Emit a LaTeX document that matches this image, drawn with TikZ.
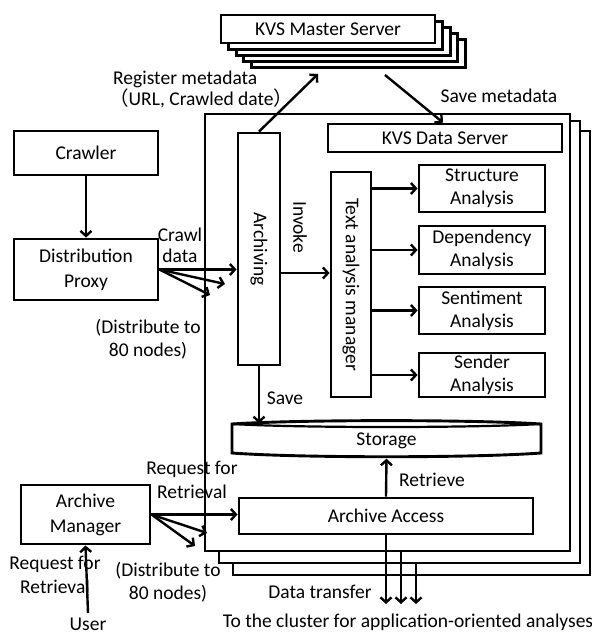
\documentclass[tikz,border=0pt]{standalone}
\usepackage{fontspec}
\setmainfont{Carlito}
\newfontfamily\cjk{Noto Sans CJK JP}
\usetikzlibrary{arrows.meta}
\tikzset{
  box/.style={draw, line width=2.9pt, fill=white, inner sep=0pt, align=center},
  lbl/.style={inner sep=0pt, align=center},
  arr/.style={line width=2.4pt, -{Straight Barb[length=5pt,width=11pt,line width=2.4pt]}},
}
\begin{document}
\begin{tikzpicture}[x=1pt,y=-1pt,font=\fontsize{19.5}{22}\selectfont]
\useasboundingbox (0,0) rectangle (592,635);

% ---- KVS master server stack ----
\foreach \k in {4,3,2,1}{
  \draw[line width=2.9pt, fill=white] (221+7.6*\k,15+6.2*\k) rectangle (435+7.6*\k,43+6.2*\k);
}
\node[box, minimum width=214pt, minimum height=28pt] (kvsmaster) at (328,29) {KVS Master Server};

% ---- stacked processing nodes ----
\node[box, minimum width=357pt, minimum height=444pt] (layerc) at (411.5,353) {};
\node[box, minimum width=361pt, minimum height=442pt] (layerb) at (399.5,342) {};
\node[box, minimum width=365pt, minimum height=437pt] (front) at (387.5,332.5) {};

% ---- left side components ----
\node[box, minimum width=144pt, minimum height=44pt] (crawler) at (86,153) {Crawler};
\node[box, minimum width=144pt, minimum height=61pt, font=\fontsize{19.5}{25}\selectfont] (proxy) at (86,269.5) {Distribution\\Proxy};
\node[box, minimum width=129pt, minimum height=59pt, font=\fontsize{19.5}{25}\selectfont] (archmgr) at (85.5,514.5) {Archive\\Manager};

% ---- inside the front node ----
\node[box, minimum width=42pt, minimum height=232pt] (archiving) at (259,249) {};
\node[lbl, rotate=-90] (archivingtxt) at (archiving.center) {Archiving};
\node[box, minimum width=234pt, minimum height=28pt] (kvsdata) at (445,138) {KVS Data Server};
\node[box, minimum width=40pt, minimum height=225pt] (tam) at (351,284.5) {};
\node[lbl, rotate=-90] (tamtxt) at (tam.center) {Text analysis manager};

\begin{scope}[every node/.append style={box, minimum width=126pt, font=\fontsize{19.5}{23}\selectfont}]
\node[minimum height=47pt] (struct) at (482,188.5) {Structure\\Analysis};
\node[minimum height=48pt] (dep) at (482,250) {Dependency\\Analysis};
\node[minimum height=47pt] (sent) at (482,310.5) {Sentiment\\Analysis};
\node[minimum height=44pt] (sender) at (482,375) {Sender\\Analysis};
\end{scope}

% storage drum
\draw[line width=2.9pt, fill=white]
  (232,424) -- (232,453) .. controls (300,458) and (473,458) .. (541,453)
  -- (541,424) .. controls (473,419.5) and (300,419.5) .. (232,424) -- cycle;
\draw[line width=2.2pt] (232,424) .. controls (300,428) and (473,428) .. (541,424);
\node[lbl, minimum width=309pt, minimum height=35pt] (storage) at (386.5,441) {Storage};

\node[box, minimum width=294pt, minimum height=36pt] (access) at (386,516) {Archive Access};

% ---- connectors ----
\draw[arr] (crawler.south) -- (proxy.north);

\coordinate (pd1) at (225,284);
\coordinate (pd2) at (210,295);
\draw[arr] (proxy.east) -- (proxy.east -| archiving.west);
\draw[arr] (proxy.east) -- (pd1);
\draw[arr] (proxy.east) -- (pd2);

\coordinate (inv) at ([yshift=-24pt]archiving.east);
\draw[arr] (inv) -- (inv -| tam.west);

\draw[arr] (tam.east |- struct.west) -- (struct.west);
\draw[arr] (tam.east |- dep.west) -- (dep.west);
\draw[arr] (tam.east |- sent.west) -- (sent.west);
\draw[arr] (tam.east |- sender.west) -- (sender.west);

\draw[arr] (archiving.south) -- (archiving.south |- storage.north);
\draw[arr] (access.north) -- (storage.south);

\coordinate (regend) at (318,74);
\draw[arr] (archiving.north) -- (regend);
\coordinate (smstart) at (385,75);
\draw[arr] (smstart) -- ([xshift=-2pt]kvsdata.north);

\coordinate (ad1) at (207,533);
\coordinate (ad2) at (195,546);
\draw[arr] (archmgr.east) -- (archmgr.east -| access.west);
\draw[arr] (archmgr.east) -- (ad1);
\draw[arr] (archmgr.east) -- (ad2);

\coordinate (user) at (88,613);
\draw[arr] (user) -- (archmgr.south);

\coordinate (dt1) at (386,604);
\coordinate (dt2s) at (401,551);
\coordinate (dt2) at (401,604);
\coordinate (dt3s) at (416,563);
\coordinate (dt3) at (416,604);
\draw[arr] (access.south) -- (dt1);
\draw[arr] (dt2s) -- (dt2);
\draw[arr] (dt3s) -- (dt3);

% ---- labels ----
\node[lbl, anchor=west] (reglbl) at (113,79.5) {Register metadata};
\node[lbl, anchor=west] (reglbl2) at (109,98.5) {{\cjk （}URL, Crawled date{\cjk ）}};
\node[lbl] (smlbl) at (499,96) {Save metadata};
\node[lbl, font=\fontsize{19.5}{21}\selectfont] (crawllbl) at (180,245.5) {Crawl\\data};
\node[lbl, font=\fontsize{19.5}{22.5}\selectfont] (dist1) at (148,339) {(Distribute to\\80 nodes)};
\node[lbl, rotate=-90] (invlbl) at (300,227) {Invoke};
\node[lbl] (savelbl) at (285,398) {Save};
\node[lbl] (retlbl) at (432,480) {Retrieve};
\node[lbl, font=\fontsize{19.5}{23.5}\selectfont] (req1) at (192,480) {Request for\\Retrieval};
\node[lbl, font=\fontsize{19.5}{23.5}\selectfont] (req2) at (55,575) {Request for\\Retrieval};
\node[lbl] (userlbl) at (88,624) {User};
\node[lbl, font=\fontsize{19.5}{22.5}\selectfont] (dist2) at (168,582) {(Distribute to\\80 nodes)};
\node[lbl] (dtlbl) at (320,592) {Data transfer};
\node[lbl] (cluster) at (408,622) {To the cluster for application-oriented analyses};
\end{tikzpicture}
\end{document}
